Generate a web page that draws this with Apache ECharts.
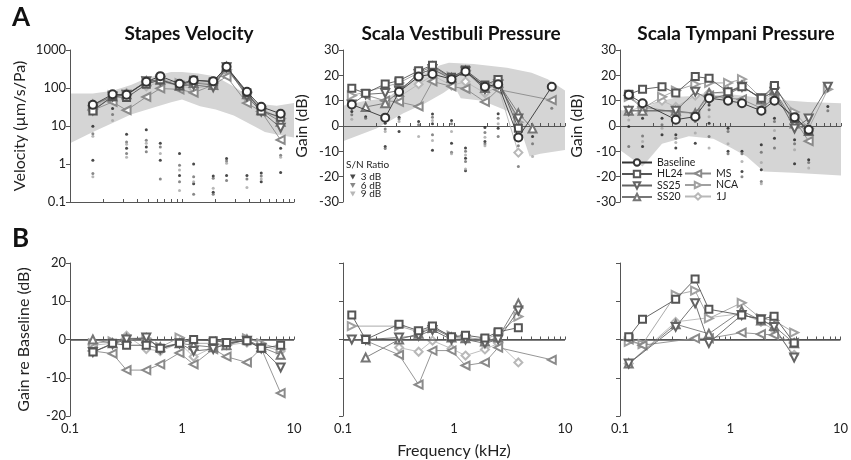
<!DOCTYPE html>
<html>
<head>
<meta charset="utf-8">
<script src="https://cdn.jsdelivr.net/npm/echarts@6/dist/echarts.min.js"></script>
<style>
  html, body { margin: 0; background: #fff; }
  #container { width: 851px; height: 460px; }
</style>
</head>
<body>
<div id="container"></div>
<script>
// frequencies (kHz) shared by all panels
const freqs = [0.12, 0.16, 0.24, 0.32, 0.48, 0.64, 0.95, 1.27, 1.9, 2.5, 3.8, 5.1, 7.6];
const seriesNames = ['Baseline', 'HL24', 'SS25', 'SS20', 'MS', 'NCA', '1J'];

// A: stapes velocity (um/s/Pa), rows follow seriesNames
const stapesVel = [
    [null, 36, 68, 66, 145, 205, 130, 160, 150, 360, 80, 32, 21],
    [null, 25, 60, 56, 125, 165, 115, 160, 145, 350, 75, 25, 17],
    [null, 26, 60, 66, 150, 155, 115, 120, 105, 350, 60, 24, 9],
    [null, 36, 60, 68, 150, 165, 115, 135, 120, 360, 68, 26, 13],
    [null, 26, 43, 26, 58, 97, 92, 75, 120, 200, 40, 24, 4.3],
    [null, 32, 64, 66, 150, 165, 135, 140, 130, 300, 75, 28, 16],
    [null, 30, 60, 74, 110, 145, 115, 95, 120, 300, 70, 27, 15]
];
// A: scala vestibuli pressure gain (dB)
const svGain = [
    [8.5, null, 3.3, 13.5, 19.5, 20.5, 18.5, 21.5, 15.5, 16.5, -4.5, null, 15.5],
    [14.9, 12.9, 16.6, 17.9, 21.8, 24, 19.2, 22.1, 16.2, 18.4, -0.9, null, null],
    [8.5, 12.5, 13, 14, 20.5, 22.5, 18.5, 21.5, 14.5, 16.5, 3, null, null],
    [null, 7.5, 9, 13.5, 21, 23.5, 19, 21.8, 15, 17, 5, -1, null],
    [null, 12.2, 10, 9.5, 7.7, 17.6, 15.6, 14.7, 9.5, 14.4, null, null, 10.2],
    [12, null, null, 17, 21, 22, 19.5, 22, 15.5, 18, 1.5, null, null],
    [null, null, null, 11.5, 16.5, 20, 16, 17.5, 13, 15.5, -10.5, null, null]
];
// A: scala tympani pressure gain (dB)
const stGain = [
    [12.3, 9, null, 2.5, 3.7, 11, 10, 9, 6, 10, 3.5, -1.5, null],
    [12.5, 14.5, 15.5, 13, 19.5, 18.8, 13.5, 15.5, 11, 16, 3, -2, null],
    [6, null, null, 6, 13.5, 10.5, 12.5, 15.5, 11, 13.5, -1, 3, 15.5],
    [6, 6, null, 6, 5, 13, 13.5, 16, 10.5, 14, 1, -2, null],
    [12, 7.5, null, 5.5, 5, 12, 11, 10.5, 7, 11, 2.5, -6, null],
    [11.5, 7, 11.5, 14, 16.5, 17, 17, 18.5, 11, 15, 5.5, -1, 14.5],
    [6, 7.5, 10, 7.5, 12, 13, 13, 15.8, 10.5, 12.5, 0, -1, null]
];

// B: gain re baseline (dB), rows = HL24, SS25, SS20, MS, NCA, 1J
const stapesDiff = [
    [null, -3.3, -1, -1.5, -1.5, -2.3, -1, 0, -0.3, -0.8, -0.3, -2.3, -1.5],
    [null, -3.3, -1.2, 0, 0.5, -2.5, -1, -3, -2.5, -1, -0.3, -2.3, -7.3],
    [null, 0, -1, 0.3, 0.3, -2, -1, -1.5, -2, -1.5, 0, -2, -4],
    [null, -3, -3.7, -8, -8, -6.5, -3.5, -6.5, -2.5, -4.5, -6, -2.3, -14],
    [null, -1, -0.5, 0, 0.3, -2, 0.5, -1, -1, -1.5, 0.3, -1, -2.5],
    [null, -1.5, -1, 1, -2.5, -3, -1, -4.5, -2, -1.5, -0.8, -1.5, -3]
];
const svDiff = [
    [6.4, 0, null, 4, 2.3, 3.5, 0.7, 1.1, 0.4, 2, 3.1, null, null],
    [0, 0, null, 0.5, 1, 2.5, 0, 0, -1, 0, 7.6, null, null],
    [null, -4.7, null, 0, 1.5, 3, 0.5, 0.3, -0.5, 0.5, 9.4, null, null],
    [null, -0.3, null, -4, -11.8, -2.9, -2.9, -6.8, -6, -2.1, null, null, -5.3],
    [3.5, null, null, 3.5, 2, 3, 1, 0.5, 0, 1.5, 6, null, null],
    [null, null, null, -2.1, -3.2, -0.3, -2.4, -4.2, -2.6, -1, -6, null, null]
];
const stDiff = [
    [0.7, 5.3, null, 10.5, 15.8, 7.9, null, 6.4, 5.3, 6.1, -0.9, null, null],
    [-6.3, null, null, 3.3, 9.5, -0.9, null, 6.4, 5.3, 3.3, -4.7, null, null],
    [-6.3, null, null, 4, null, 1.5, null, 7.5, 5, 3.5, -1, null, null],
    [0, -1.5, null, null, 0.3, 0.3, null, 1.8, 1.4, 1.2, -0.9, null, null],
    [-0.6, -1.2, null, 11.7, 12.8, 5.5, null, 9.6, 5.5, 5, 1.8, null, null],
    [-6.3, null, null, 4.6, null, null, null, 6.8, 4.6, 2.5, -4, null, null]
];

// noise floor points: [frequency, values]
const stapesNoise = [
    [0.16, [9.9, 6.3, 5.4, 1.26, 0.56, 0.46]],
    [0.24, [29, 20, 14]],
    [0.32, [6.1, 3.8, 3.3, 2.6, 1.9, 1.5]],
    [0.48, [8, 4.2, 3.5, 2.8, 2.1]],
    [0.64, [3.5, 2.8, 1.9, 1.25, 0.4]],
    [0.95, [1.9, 0.93, 0.7, 0.5, 0.34, 0.2]],
    [1.27, [1, 0.46, 0.34, 0.3, 0.16]],
    [1.9, [0.48, 0.42, 0.23, 0.18, 0.16]],
    [2.5, [1.4, 1.2, 1.05, 0.5, 0.37]],
    [3.8, [0.5, 0.4, 0.24]],
    [5.1, [0.58, 0.48, 0.4, 0.34]],
    [7.6, [2.6, 1.7, 1.5, 0.6]]
];
const svNoise = [
    [0.12, [5.7, 4.4, 2.7]],
    [0.16, [3.7, 3.1]],
    [0.24, [1.1, -1.2, -2.2, -8.1, -8.9]],
    [0.32, [3.5, 2.8, 1.8, -2.2]],
    [0.48, [1.8, 0.5, -4.1]],
    [0.64, [4.7, 3.5, 2.2, 0.9, -3.5, -5.7, -9.6]],
    [0.95, [2.2, 0.9, -2.2, -6.8, -10.4, -11]],
    [1.27, [-8.7, -10, -11.4, -12.7, -14, -17, -17.7]],
    [1.9, [-0.6, -2.6, -4.4, -6.1, -7, -7.8]],
    [2.5, [4.8, 3.1, 0.9, -0.9, -4.1]],
    [3.8, [-5.4, -7.8, -9.6, -11.4, -16]],
    [5.1, [-4.1, -7, -12]],
    [7.6, [10.3, 7]]
];
const stNoise = [
    [0.12, [5.7, 4.4, 2.4, -0.2, -8.1]],
    [0.16, [3.1, -3.9, -6.1, -8.1]],
    [0.24, [3.1, 0.5, -0.9, -3.5]],
    [0.32, [-3.5, -4.8, -6.5, -8.7]],
    [0.48, [5, 1.8, -2.8, -6.8]],
    [0.64, [8.3, 6.4, 3.7, 1.1, -4.1, -8.7]],
    [0.95, [-0.9, -2.2, -7, -10, -11]],
    [1.27, [-10, -11, -14, -18, -20]],
    [1.9, [-7.4, -10.4, -14.4, -17.3, -21.9, -22.8]],
    [2.5, [3.1, 1.8, -1.8, -4.8, -8.7]],
    [3.8, [-5.4, -7, -9.4, -14.9]],
    [5.1, [-13.3, -14.4, -16.6]],
    [7.6, [7.7, 6]]
];

// normal-range bands (upper edge, lower edge)
const stapesBandHiX = [0.1, 0.16, 0.24, 0.35, 0.5, 0.8, 1.0, 1.4, 2.0, 2.9, 4.0, 5.0, 7.0, 10];
const stapesBandHi = [72, 72, 85, 120, 190, 265, 265, 240, 200, 110, 60, 38, 34, 40];
const stapesBandLoX = [0.1, 0.16, 0.24, 0.35, 0.55, 0.8, 1.0, 1.45, 2.0, 2.9, 4.5, 5.5, 7.0, 10];
const stapesBandLo = [3.5, 7, 12, 20, 30, 42, 50, 33, 27, 19, 9.5, 7, 6, 5];
const svBandHiX = [0.1, 0.16, 0.25, 0.35, 0.5, 0.75, 0.9, 1.5, 3, 5, 7, 10];
const svBandHi = [8, 10, 11, 16, 20, 24, 25, 24.5, 23, 21, 18.5, 14];
const svBandLoX = [0.1, 0.2, 0.35, 0.55, 0.8, 1.0, 1.15, 1.8, 3, 4.1, 4.8, 6, 10];
const svBandLo = [-6, -1, 5, 9, 13, 16, 11, 10, 6, -3, -12, -11, -9.5];
const stBandHiX = [0.1, 0.13, 0.16, 0.22, 0.34, 1.0, 2.5, 5, 10];
const stBandHi = [6.5, 4.5, 6.5, 9.5, 11.5, 12.5, 10.5, 9.5, 9];
const stBandLoX = [0.1, 0.16, 0.24, 0.42, 0.7, 1.0, 1.4, 2.0, 3.7, 10];
const stBandLo = [-9.5, -16, -7, -4, -5, -8.5, -12, -18, -18.5, -19.5];

const xTicks = [0.1, 0.2, 0.3, 0.4, 0.5, 0.6, 0.7, 0.8, 0.9, 1, 2, 3, 4, 5, 6, 7, 8, 9, 10];
const noiseNames = ['3 dB', '6 dB', '9 dB'];

const lineColors = ['#333333', '#555555', '#636363', '#767676', '#8a8a8a', '#a0a0a0', '#b8b8b8'];
const symbols = ['emptyCircle', 'emptyRect', 'emptyTriangle', 'emptyTriangle', 'emptyTriangle', 'emptyTriangle', 'emptyDiamond'];
const rotations = [0, 0, 180, 0, 90, -90, 0];
const sizes = [8, 7, 8, 8, 8, 8, 8];
const noiseColors = ['#1c1c1c', '#6a6a6a', '#a5a5a5'];
const font = 'Lato';

var dom = document.getElementById('container');
var myChart = echarts.init(dom, null, { renderer: 'canvas' });

function lineSeries(idx, gi, arr) {
    let pts = [];
    freqs.forEach((f, i) => { if (arr[i] !== null) pts.push([f, arr[i]]); });
    return {
        type: 'line', name: seriesNames[idx], xAxisIndex: gi, yAxisIndex: gi,
        data: pts, symbol: symbols[idx], symbolRotate: rotations[idx], symbolSize: sizes[idx],
        lineStyle: { color: lineColors[idx], width: 0.9 },
        itemStyle: { color: lineColors[idx], borderWidth: 0.9 },
        z: 10 - idx
    };
}

function bandSeries(gi, hx, hy, lx, ly) {
    let pts = [];
    hx.forEach((x, i) => pts.push([x, hy[i]]));
    for (let i = lx.length - 1; i >= 0; i--) pts.push([lx[i], ly[i]]);
    return {
        type: 'custom', xAxisIndex: gi, yAxisIndex: gi, silent: true, z: 0,
        data: pts,
        renderItem: function (params, api) {
            if (params.dataIndex !== 0) return;
            return {
                type: 'polygon',
                shape: { points: pts.map(p => api.coord(p)) },
                style: { fill: '#d5d5d5' }
            };
        }
    };
}

function noiseSeries(gi, noise) {
    let groups = [[], [], []];
    noise.forEach(row => {
        row[1].forEach((v, i) => groups[i % 3].push([row[0], v]));
    });
    return groups.map((g, k) => ({
        type: 'scatter', name: noiseNames[k], xAxisIndex: gi, yAxisIndex: gi,
        data: g, symbol: 'circle', symbolSize: 3,
        itemStyle: { color: noiseColors[k] }, z: 2
    }));
}

function xAxisCfg(gi, showLabels, name) {
    return {
        type: 'log', logBase: 10, min: 0.1, max: 10, gridIndex: gi,
        name: name || '', nameLocation: 'middle', nameGap: 27,
        nameTextStyle: { fontFamily: font, fontSize: 16, color: '#222' },
        axisLine: { lineStyle: { color: '#555', width: 1 } },
        axisTick: { show: true, inside: true, length: 3, customValues: xTicks, lineStyle: { color: '#555' } },
        axisLabel: { show: showLabels, fontFamily: font, fontSize: 13, color: '#222', margin: 6,
            formatter: v => String(Math.round(v * 10) / 10) },
        splitLine: { show: false }
    };
}

function yAxisCfg(gi, opts) {
    return Object.assign({
        gridIndex: gi, nameLocation: 'middle',
        nameTextStyle: { fontFamily: font, fontSize: 16, color: '#222' },
        axisLine: { show: true, lineStyle: { color: '#555', width: 1 } },
        axisTick: { show: true, inside: false, length: 4, lineStyle: { color: '#555' } },
        axisLabel: { fontFamily: font, fontSize: 13, color: '#222', margin: 4,
            formatter: v => String(Math.round(v * 10) / 10) },
        splitLine: { show: false }
    }, opts);
}

let series = [];
series.push(bandSeries(0, stapesBandHiX, stapesBandHi, stapesBandLoX, stapesBandLo));
series.push(bandSeries(1, svBandHiX, svBandHi, svBandLoX, svBandLo));
series.push(bandSeries(2, stBandHiX, stBandHi, stBandLoX, stBandLo));
series.push(...noiseSeries(0, stapesNoise));
series.push(...noiseSeries(1, svNoise));
series.push(...noiseSeries(2, stNoise));
[stapesVel, svGain, stGain].forEach((rows, gi) => {
    rows.forEach((arr, idx) => series.push(lineSeries(idx, gi, arr)));
});
[stapesDiff, svDiff, stDiff].forEach((rows, k) => {
    rows.forEach((arr, j) => series.push(lineSeries(j + 1, k + 3, arr)));
    // zero reference line
    series.push({
        type: 'line', xAxisIndex: k + 3, yAxisIndex: k + 3, data: [], silent: true,
        markLine: {
            silent: true, symbol: 'none', label: { show: false },
            lineStyle: { color: '#555', width: 1.5, type: 'solid' },
            data: [{ yAxis: 0 }]
        }
    });
});

var option = {
    animation: false,
    backgroundColor: '#fff',
    grid: [
        { left: 70, top: 50, width: 224, height: 152 },
        { left: 343, top: 50, width: 222, height: 152 },
        { left: 620, top: 50, width: 221, height: 152 },
        { left: 70, top: 263, width: 224, height: 153 },
        { left: 343, top: 263, width: 222, height: 153 },
        { left: 620, top: 263, width: 221, height: 153 }
    ],
    xAxis: [
        xAxisCfg(0, false), xAxisCfg(1, false), xAxisCfg(2, false),
        xAxisCfg(3, true), xAxisCfg(4, true, 'Frequency (kHz)'), xAxisCfg(5, true)
    ],
    yAxis: [
        yAxisCfg(0, { type: 'log', logBase: 10, min: 0.1, max: 1000, name: 'Velocity (\u00b5m/s/Pa)', nameGap: 42 }),
        yAxisCfg(1, { type: 'value', min: -30, max: 30, interval: 10, name: 'Gain (dB)', nameGap: 33 }),
        yAxisCfg(2, { type: 'value', min: -30, max: 30, interval: 10, name: 'Gain (dB)', nameGap: 35 }),
        yAxisCfg(3, { type: 'value', min: -20, max: 20, interval: 10, name: 'Gain re Baseline (dB)', nameGap: 38 }),
        yAxisCfg(4, { type: 'value', min: -20, max: 20, interval: 10, axisLabel: { show: false } }),
        yAxisCfg(5, { type: 'value', min: -20, max: 20, interval: 10, axisLabel: { show: false } })
    ],
    legend: [
        {
            data: ['Baseline', 'HL24', 'SS25', 'SS20'], orient: 'vertical', left: 621, top: 157,
            itemWidth: 30, itemHeight: 8, itemGap: 0.5, selectedMode: false, padding: 0,
            textStyle: { fontFamily: font, fontSize: 10.5, color: '#222', lineHeight: 9 }
        },
        {
            data: ['MS', 'NCA', '1J'], orient: 'vertical', left: 684, top: 168,
            itemWidth: 26, itemHeight: 8, itemGap: 0.5, selectedMode: false, padding: 0,
            textStyle: { fontFamily: font, fontSize: 10.5, color: '#222', lineHeight: 9 }
        },
        {
            data: noiseNames.map(n => ({ name: n, icon: 'path://M0,0L10,0L5,9Z' })),
            orient: 'vertical', left: 350, top: 172,
            itemWidth: 6, itemHeight: 5, itemGap: -1.5, selectedMode: false, padding: 0,
            textStyle: { fontFamily: font, fontSize: 10, color: '#222', lineHeight: 8 }
        }
    ],
    graphic: [
        { type: 'text', x: 12, y: 5, style: { text: 'A', font: 'bold 26px ' + font, fill: '#111' } },
        { type: 'text', x: 12, y: 226, style: { text: 'B', font: 'bold 26px ' + font, fill: '#111' } },
        { type: 'text', x: 189, y: 34, style: { text: 'Stapes Velocity', font: 'bold 19px ' + font, fill: '#111', textAlign: 'center', textVerticalAlign: 'middle' } },
        { type: 'text', x: 461, y: 34, style: { text: 'Scala Vestibuli Pressure', font: 'bold 19px ' + font, fill: '#111', textAlign: 'center', textVerticalAlign: 'middle' } },
        { type: 'text', x: 736, y: 34, style: { text: 'Scala Tympani Pressure', font: 'bold 19px ' + font, fill: '#111', textAlign: 'center', textVerticalAlign: 'middle' } },
        { type: 'text', x: 346, y: 160, style: { text: 'S/N Ratio', font: '10px ' + font, fill: '#222' } }
    ],
    series: series
};

if (option && typeof option === 'object') {
    myChart.setOption(option);
}

window.addEventListener('resize', myChart.resize);
</script>
</body>
</html>
